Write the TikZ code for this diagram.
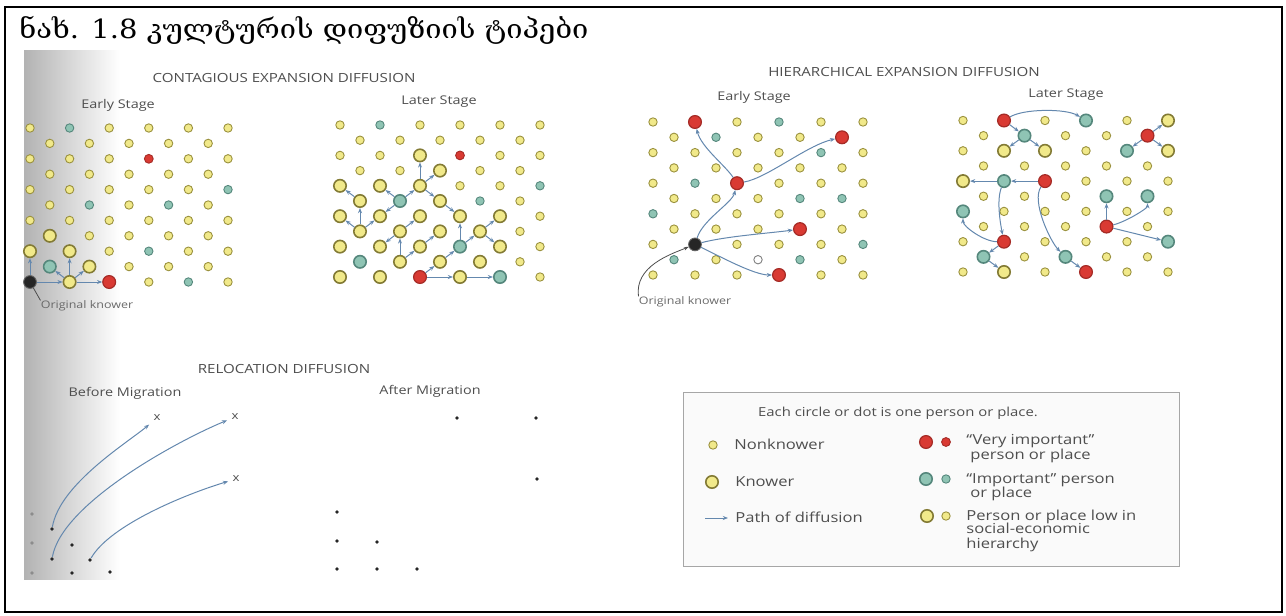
\documentclass[tikz,border=0pt]{standalone}
\usepackage{fontspec}
\setmainfont{Open Sans}
\newfontfamily\scanfont[FakeStretch=1.2]{Open Sans}
\newfontfamily\geofont[FakeStretch=1.1]{DejaVu Serif}
\usetikzlibrary{arrows.meta}
\definecolor{scan-ink}{HTML}{4E4E4E}
\definecolor{knower-fill}{HTML}{F1E98A}
\definecolor{knower-line}{HTML}{9A913E}
\definecolor{important-fill}{HTML}{8FC4B4}
\definecolor{important-line}{HTML}{55877C}
\definecolor{vip-fill}{HTML}{D93A33}
\definecolor{vip-line}{HTML}{A52B26}
\definecolor{path-blue}{HTML}{6488AE}

\tikzset{
  dot/.style={circle, inner sep=0pt, line width=0.45pt},
  doty/.style={dot, minimum size=4.2pt, fill=knower-fill, draw=knower-line},
  dotY/.style={dot, minimum size=6.2pt, fill=knower-fill, draw=knower-line!85!black, line width=0.8pt},
  dott/.style={dot, minimum size=4.2pt, fill=important-fill, draw=important-line},
  dotT/.style={dot, minimum size=6.2pt, fill=important-fill, draw=important-line, line width=0.8pt},
  dotr/.style={dot, minimum size=4.4pt, fill=vip-fill, draw=vip-line},
  dotR/.style={dot, minimum size=6.4pt, fill=vip-fill, draw=vip-line, line width=0.6pt},
  dotK/.style={dot, minimum size=6.4pt, fill=black!85, draw=black!60},
  dotw/.style={dot, minimum size=4.2pt, fill=white, draw=gray},
  spot/.style={circle, inner sep=0pt, minimum size=1.9pt, fill=black!85},
  faint spot/.style={circle, inner sep=0pt, minimum size=1.9pt, fill=black!45},
  spread/.style={-{Stealth[length=2.6pt, width=2pt]}, path-blue, line width=0.5pt},
  pointer/.style={black!70, line width=0.4pt},
  heading/.style={font=\scanfont\fontsize{6.3}{7.5}\selectfont, text=scan-ink, inner sep=0pt},
  stage/.style={font=\scanfont\fontsize{6.0}{7.2}\selectfont, text=scan-ink, inner sep=0pt},
  note/.style={font=\scanfont\fontsize{5.2}{6.2}\selectfont, text=scan-ink!85, inner sep=0pt},
  cross/.style={font=\scanfont\fontsize{5.5}{6.5}\selectfont, text=scan-ink, inner sep=2pt},
  key/.style={font=\scanfont\fontsize{6.9}{8}\selectfont, text=scan-ink, inner sep=0pt, anchor=base west},
}
\newcommand{\dotpanel}[6]{% name, x0, y0, dx, dy, rows of kinds
  \foreach \kinds [count=\row from 0] in {#6}
    \foreach \kind [count=\col from 0] in \kinds
      \node[dot\kind] (#1-\row-\col)
        at ({#2+(\col+0.5*mod(\row,2))*#4}, {#3+\row*#5}) {};
}

\begin{document}
\begin{tikzpicture}[x=0.5pt, y=-0.5pt]
  \useasboundingbox (0,0) rectangle (1286,616);
  % scanned page, grey towards the binding
  \shade[left color=black!30, right color=white] (24,50) rectangle (120,579);
  \draw[line width=0.8pt] (5,7) rectangle (1282,612);
  \node[font=\geofont\fontsize{13.2}{15}\selectfont, anchor=base west, inner sep=0pt]
    (title) at (19,38) {ნახ. 1.8 კულტურის დიფუზიის ტიპები};

  % contagious expansion
  \node[heading] (c-title) at (284,78) {CONTAGIOUS EXPANSION DIFFUSION};
  \node[stage] (ce-stage) at (118,105) {Early Stage};
  \node[stage] (cl-stage) at (439,102) {Later Stage};
  \dotpanel{ce}{30}{128}{39.6}{15.4}{{y,t,y,y,y,y},{y,y,y,y,y},{y,y,y,r,y,y},{y,y,y,y,y},
    {y,y,y,y,y,t},{y,t,y,t,y},{y,y,y,y,y,y},{Y,y,y,y,y},{Y,Y,y,t,y,y},{T,Y,y,y,y},{K,Y,R,y,t,y}}
  \dotpanel{cl}{340}{125}{40}{15.2}{{y,t,y,y,y,y},{y,y,y,y,y},{y,y,Y,r,y,y},{y,y,Y,y,y},
    {Y,Y,Y,y,y,t},{Y,T,Y,t,y},{Y,Y,Y,Y,Y,y},{Y,Y,Y,Y,y},{Y,Y,Y,T,Y,y},{T,Y,Y,Y,y},{Y,Y,R,Y,T,y}}
  \foreach \a/\b in {10-0/10-1, 10-1/10-2, 10-1/8-1, 10-1/9-0, 10-1/9-1, 10-0/8-0}
    \draw[spread] (ce-\a) -- (ce-\b);
  \foreach \a/\b in {5-0/4-0, 5-1/4-1, 5-1/4-2, 4-2/2-2, 4-2/3-2, 4-2/5-2, 5-2/6-3,
      7-0/5-0, 7-0/6-0, 7-0/6-1, 5-1/6-1, 7-1/8-1, 7-1/6-2, 9-1/7-1, 9-1/8-2,
      8-2/7-2, 8-3/6-3, 8-3/7-3, 7-3/6-4, 7-3/8-4, 9-2/8-3, 10-2/9-2, 10-2/10-3, 10-3/10-4}
    \draw[spread] (cl-\a) -- (cl-\b);
  \node[note] (ce-origin) at (87,306) {Original knower};
  \draw[pointer] (ce-origin.north west) -- (ce-10-0);

  % hierarchical expansion
  \node[heading] (h-title) at (904,72) {HIERARCHICAL EXPANSION DIFFUSION};
  \node[stage] (he-stage) at (754,97) {Early Stage};
  \node[stage] (hl-stage) at (1066,95) {Later Stage};
  \dotpanel{he}{653}{122}{42}{15.3}{{y,R,y,t,y,y},{y,t,y,y,R},{y,y,y,y,t,y},{y,y,y,y,y},
    {y,t,R,y,y,y},{y,y,y,t,t},{t,y,y,y,y,y},{y,y,y,R,y},{y,K,y,y,y,t},{t,y,w,t,y},{y,y,y,R,y,y}}
  \dotpanel{hl}{963}{120.5}{41}{15.15}{{y,R,y,T,y,Y},{y,T,y,y,R},{y,Y,Y,y,T,Y},{y,y,y,y,y},
    {Y,T,R,y,y,y},{y,y,y,T,T},{T,y,y,y,y,y},{y,y,y,R,y},{y,R,y,y,y,T},{T,y,T,y,y},{y,Y,y,R,y,y}}
  \draw[spread] (he-8-1) .. controls +(8,-25) and +(-5,20) .. (he-4-2);
  \draw[spread] (he-4-2) .. controls +(-12,-18) and +(6,25) .. (he-0-1);
  \draw[spread] (he-4-2) .. controls +(30,-5) and +(-35,8) .. (he-1-4);
  \draw[spread] (he-8-1) .. controls +(30,-8) and +(-30,4) .. (he-7-3);
  \draw[spread] (he-8-1) .. controls +(25,12) and +(-25,0) .. (he-10-3);
  \node[note] (he-origin) at (685,302) {Original knower};
  \draw[pointer, -{Stealth[length=2.4pt, width=1.8pt]}] (he-origin.north west)
    .. controls +(-4,-30) and +(-25,10) .. (he-8-1);
  \draw[spread] (hl-0-1) .. controls +(20,-12) and +(-20,-12) .. (hl-0-3);
  \draw[spread] (hl-4-2) .. controls +(-14,20) and +(-15,-15) .. (hl-9-2);
  \draw[spread] (hl-4-1) .. controls +(-8,20) and +(-3,-15) .. (hl-8-1);
  \draw[spread] (hl-8-1) .. controls +(-20,0) and +(0,15) .. (hl-6-0);
  \draw[spread] (hl-7-3) .. controls +(20,-5) and +(0,12) .. (hl-5-4);
  \foreach \a/\b in {0-1/1-1, 1-1/2-1, 1-1/2-2, 1-4/0-5, 1-4/2-4, 1-4/2-5, 4-1/4-0,
      4-2/4-1, 8-1/9-0, 9-0/10-1, 9-2/10-3, 7-3/5-3, 7-3/8-5}
    \draw[spread] (hl-\a) -- (hl-\b);

  % relocation
  \node[heading] (r-title) at (284,369) {RELOCATION DIFFUSION};
  \node[stage] (rb-stage) at (125,393) {Before Migration};
  \node[stage] (ra-stage) at (430,391) {After Migration};
  \foreach \pos/\look [count=\i] in {(32,514)/faint spot, (52,529)/spot, (32,543)/faint spot,
      (72,545)/spot, (52,559)/spot, (90,560)/spot, (32,573)/faint spot, (72,573)/spot, (110,572)/spot}
    \node[\look] (rb-\i) at \pos {};
  \node[cross] (rx-1) at (157,418) {x};
  \node[cross] (rx-2) at (235,417) {x};
  \node[cross] (rx-3) at (236,479) {x};
  \draw[spread] (rb-2) .. controls +(8,-45) and +(-30,25) .. (rx-1);
  \draw[spread] (rb-5) .. controls +(10,-55) and +(-60,25) .. (rx-2);
  \draw[spread] (rb-6) .. controls +(20,-35) and +(-50,15) .. (rx-3);
  \foreach \pos [count=\i] in {(457,418),(536,418),(537,479),(337,512),(337,541),
      (377,542),(337,569),(377,569),(417,569)}
    \node[spot] (ra-\i) at \pos {};

  % legend
  \draw[gray!70, fill=black!2] (683,392) rectangle (1179,566);
  \node[key, anchor=center, font=\scanfont\fontsize{6.2}{7.5}\selectfont]
    (lg-head) at (898,413) {Each circle or dot is one person or place.};
  \node[doty] (lg-non) at (713,445) {};
  \node[key] (lg-non-text) at (734,449.5) {Nonknower};
  \node[dotY] (lg-know) at (712,482) {};
  \node[key] (lg-know-text) at (735,486.5) {Knower};
  \coordinate (lg-path-tail) at (705,518);
  \coordinate (lg-path-head) at (728,518);
  \draw[spread] (lg-path-tail) -- (lg-path-head);
  \node[key] (lg-path-text) at (735,522.5) {Path of diffusion};
  \node[dotR] (lg-vip-big) at (926,442) {};
  \node[dotr] (lg-vip-small) at (946,442) {};
  \node[key] (lg-vip-1) at (966,444.5) {“Very important”};
  \node[key] (lg-vip-2) at (970,459) {person or place};
  \node[dotT] (lg-imp-big) at (926,479) {};
  \node[dott] (lg-imp-small) at (946,479) {};
  \node[key] (lg-imp-1) at (966,483.5) {“Important” person};
  \node[key] (lg-imp-2) at (970,497.5) {or place};
  \node[dotY] (lg-low-big) at (927,516) {};
  \node[doty] (lg-low-small) at (946,516) {};
  \node[key] (lg-low-1) at (966,520.5) {Person or place low in};
  \node[key] (lg-low-2) at (966,533.5) {social-economic};
  \node[key] (lg-low-3) at (966,548) {hierarchy};
\end{tikzpicture}
\end{document}
